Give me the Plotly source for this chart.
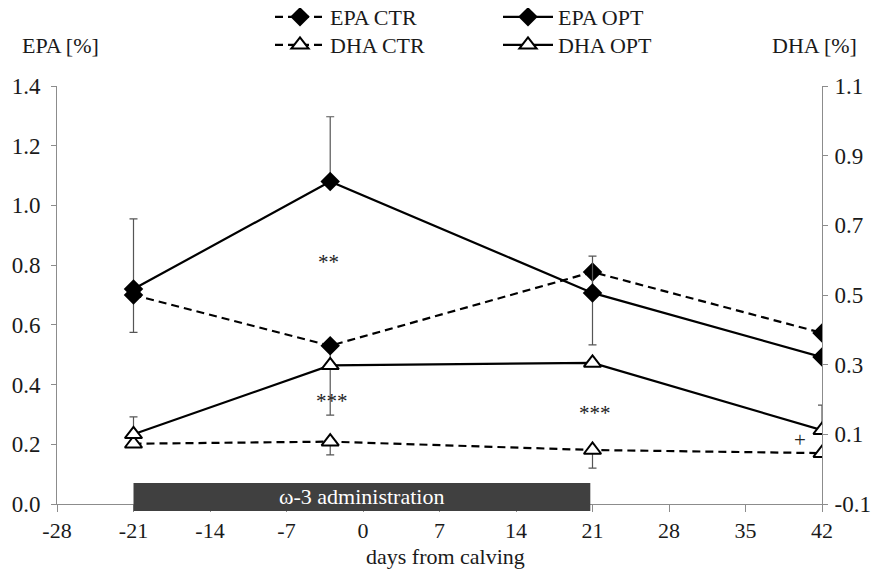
import plotly.graph_objects as go

# ---- data ----
days = [-21, -3, 21, 42]
epa_ctr = [0.70, 0.53, 0.777, 0.573]
epa_opt = [0.72, 1.08, 0.707, 0.492]
dha_ctr = [0.073, 0.079, 0.055, 0.046]
dha_opt = [0.100, 0.298, 0.305, 0.112]

epa_ctr_err_minus = [0.125, 0.232, 0.244, 0.0]
epa_opt_err_plus = [0.235, 0.217, 0.123, 0.0]
dha_ctr_err_minus = [0.0, 0.038, 0.052, 0.0]
dha_opt_err_plus = [0.05, 0.0, 0.0, 0.072]

x_ticks = [-28, -21, -14, -7, 0, 7, 14, 21, 28, 35, 42]
left_ticks = [0.0, 0.2, 0.4, 0.6, 0.8, 1.0, 1.2, 1.4]
right_ticks = [-0.1, 0.1, 0.3, 0.5, 0.7, 0.9, 1.1]

admin_start, admin_end = -21, 20.8
admin_label = "ω-3 administration"

# significance marks: (day, left-axis value, text)
sig_marks = [(-3.2, 0.81, "**"), (-2.8, 0.345, "***"), (21.2, 0.305, "***"), (40.0, 0.215, "+")]

FONT = "Liberation Serif, DejaVu Serif, serif"
TXT = "#1a1a1a"
FS = 23

fig = go.Figure()

def zeros(n):
    return [0.0] * n

fig.add_trace(go.Scatter(
    x=days, y=epa_ctr, name="EPA CTR", mode="lines+markers",
    line=dict(color="black", width=2.2, dash="8px,5px"),
    marker=dict(symbol="diamond", size=15, color="black"),
    error_y=dict(type="data", symmetric=False, array=zeros(4), arrayminus=epa_ctr_err_minus,
                 color="#555", thickness=1.2, width=4),
    legend="legend2", yaxis="y"))

fig.add_trace(go.Scatter(
    x=days, y=epa_opt, name="EPA OPT", mode="lines+markers",
    line=dict(color="black", width=2.2),
    marker=dict(symbol="diamond", size=15, color="black"),
    error_y=dict(type="data", symmetric=False, array=epa_opt_err_plus, arrayminus=zeros(4),
                 color="#555", thickness=1.2, width=4),
    legend="legend3", yaxis="y"))

fig.add_trace(go.Scatter(
    x=days, y=dha_ctr, name="DHA CTR", mode="lines+markers",
    line=dict(color="black", width=2.2, dash="8px,5px"),
    marker=dict(symbol="triangle-up", size=15, color="white", line=dict(color="black", width=2)),
    error_y=dict(type="data", symmetric=False, array=zeros(4), arrayminus=dha_ctr_err_minus,
                 color="#555", thickness=1.2, width=4),
    legend="legend4", yaxis="y2"))

fig.add_trace(go.Scatter(
    x=days, y=dha_opt, name="DHA OPT", mode="lines+markers",
    line=dict(color="black", width=2.2),
    marker=dict(symbol="triangle-up", size=15, color="white", line=dict(color="black", width=2)),
    error_y=dict(type="data", symmetric=False, array=dha_opt_err_plus, arrayminus=zeros(4),
                 color="#555", thickness=1.2, width=4),
    legend="legend5", yaxis="y2"))

# administration bar
fig.add_shape(type="rect", xref="x", yref="paper", x0=admin_start, x1=admin_end,
              y0=-0.017, y1=0.050, fillcolor="#404040", line=dict(width=0), layer="above")
fig.add_annotation(xref="x", yref="paper", x=(admin_start + admin_end) / 2, y=0.017,
                   xanchor="center", yanchor="middle", text=admin_label, showarrow=False,
                   font=dict(family=FONT, size=22, color="white"))

for d, v, t in sig_marks:
    fig.add_annotation(xref="x", yref="y", x=d, y=v, text=t, showarrow=False,
                       xanchor="center", yanchor="middle",
                       font=dict(family=FONT, size=21, color="#222"))

# axis titles
def paper_xy(px, py):
    return (px - 57) / 765, (504 - py) / 418

for txt, (px, py) in [("EPA [%]", (60, 45)), ("DHA [%]", (814, 45)), ("days from calving", (445, 556))]:
    xp, yp = paper_xy(px, py)
    fig.add_annotation(xref="paper", yref="paper", x=xp, y=yp, xanchor="center", yanchor="middle",
                       text=txt, showarrow=False, font=dict(family=FONT, size=22, color=TXT))

AX = "#8c8c8c"
fig.update_layout(
    width=880, height=573,
    margin=dict(l=49, r=66, t=78, b=77, autoexpand=False),
    paper_bgcolor="white", plot_bgcolor="white",
    font=dict(family=FONT, size=FS, color=TXT),
    showlegend=True,
    xaxis=dict(range=[-28, 42], tickvals=x_ticks, ticktext=[str(v) for v in x_ticks],
               showgrid=False, zeroline=False, showline=True, linecolor=AX, linewidth=1,
               ticks="outside", ticklen=7, tickcolor=AX, tickfont=dict(family=FONT, size=22)),
    yaxis=dict(range=[0, 1.4], tickvals=left_ticks, ticktext=[f"{v:.1f}" for v in left_ticks],
               showgrid=False, zeroline=False, showline=True, linecolor=AX, linewidth=1,
               ticks="outside", ticklen=5, tickcolor=AX, ticklabelstandoff=6,
               tickfont=dict(family=FONT, size=FS)),
    yaxis2=dict(range=[-0.1, 1.1], tickvals=right_ticks, ticktext=[f"{v:.1f}" for v in right_ticks],
                overlaying="y", side="right",
                showgrid=False, zeroline=False, showline=True, linecolor=AX, linewidth=1,
                ticks="outside", ticklen=5, tickcolor=AX, ticklabelstandoff=2,
                tickfont=dict(family=FONT, size=FS)),
)

leg_common = dict(orientation="h", xanchor="left", yanchor="middle", itemwidth=50,
                  bgcolor="rgba(0,0,0,0)", font=dict(family=FONT, size=22, color=TXT))
fig.update_layout(
    legend2=dict(x=(270 - 57) / 765, y=(504 - 17) / 418, **leg_common),
    legend3=dict(x=(498 - 57) / 765, y=(504 - 17) / 418, **leg_common),
    legend4=dict(x=(270 - 57) / 765, y=(504 - 45) / 418, **leg_common),
    legend5=dict(x=(498 - 57) / 765, y=(504 - 45) / 418, **leg_common),
)

fig.write_html("out.html")
